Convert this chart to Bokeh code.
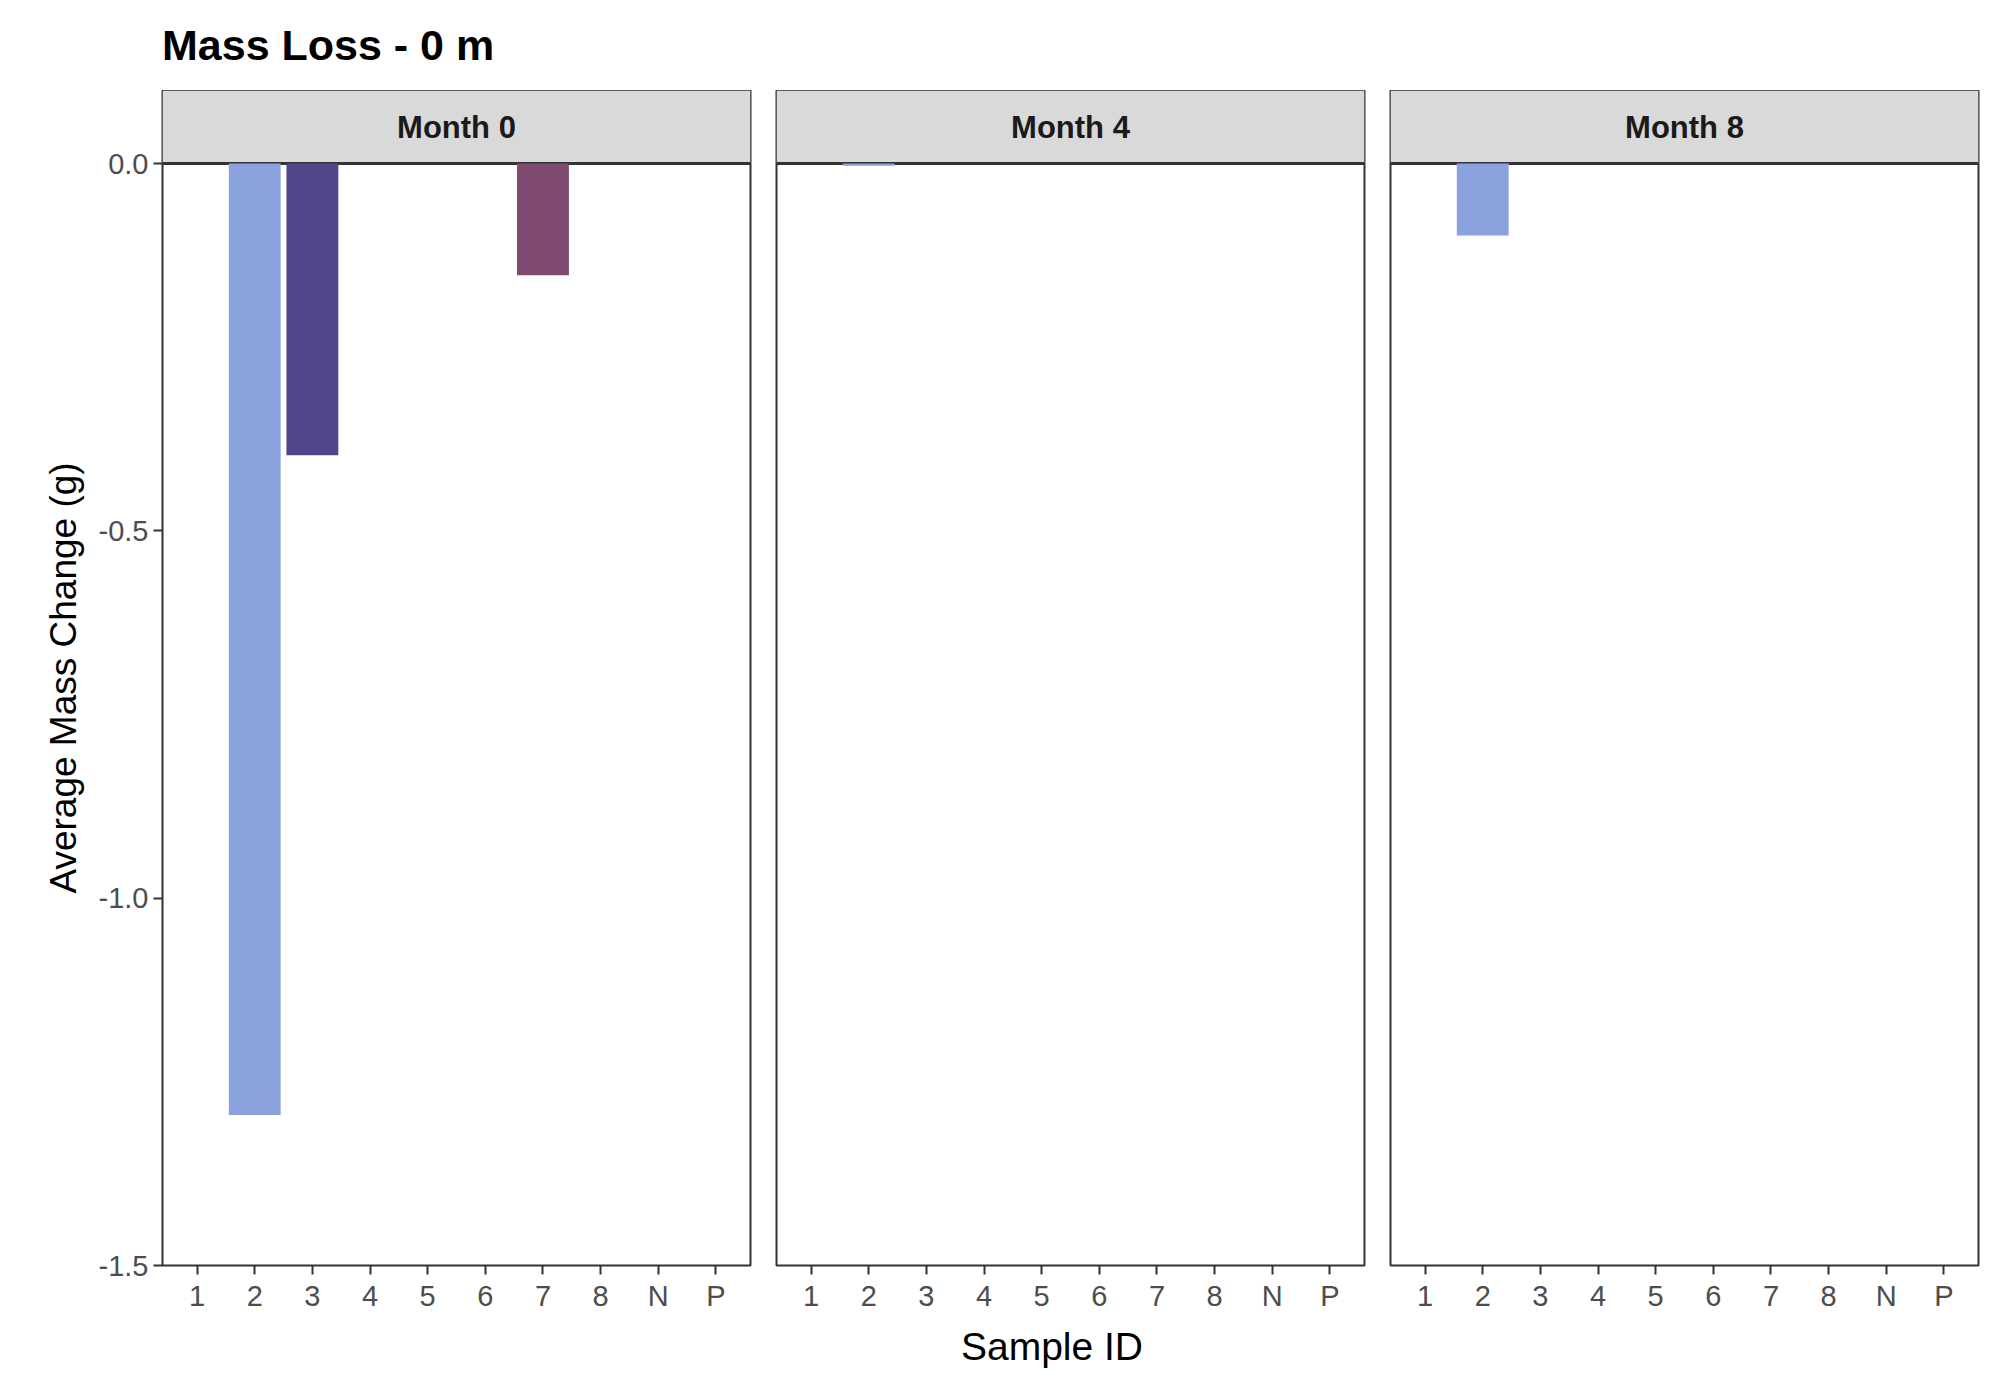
from bokeh.plotting import figure
from bokeh.models import FactorRange, Range1d, Div, FixedTicker, ColumnDataSource, PrintfTickFormatter
from bokeh.layouts import column, row
from bokeh.embed import file_html
from bokeh.resources import INLINE
from bokeh.core.properties import value

sample_ids = ["1", "2", "3", "4", "5", "6", "7", "8", "N", "P"]
months = ["Month 0", "Month 4", "Month 8"]
bar_ids = [["2", "3", "7"], ["2"], ["2"]]
bar_vals = [[-1.295, -0.397, -0.152], [-0.003], [-0.098]]
bar_colors = {"2": "#8AA2DE", "3": "#514689", "7": "#7E4A6F"}
y_ticks = [0.0, -0.5, -1.0, -1.5]

FONT = "Liberation Sans"
FW, FH = 588, 1175
STRIP = 0.0995
figs = []
for i, m in enumerate(months):
    f = figure(x_range=FactorRange(*sample_ids, range_padding=0.02),
               y_range=Range1d(-1.5, STRIP), frame_width=FW, frame_height=FH,
               output_backend="svg", toolbar_location=None,
               min_border_top=0, min_border_bottom=10,
               min_border_left=162 if i == 0 else 13,
               min_border_right=13 if i < 2 else 2)
    f.quad(left=[-0.1], right=[10.1], bottom=[0], top=[STRIP], fill_color="#D9D9D9", line_color=None)
    f.line(x=[-0.1, 10.1], y=[0, 0], line_color="#333333", line_width=3)
    src = ColumnDataSource(dict(x=bar_ids[i], top=bar_vals[i], c=[bar_colors[k] for k in bar_ids[i]]))
    f.vbar(x="x", top="top", bottom=0, width=0.9, fill_color="c", line_color=None, source=src)
    f.text(x=[5.0], y=[STRIP / 2], text=[m], text_align="center", text_baseline="middle",
           text_font=value(FONT), text_font_style="bold", text_font_size="31px", text_color="#1A1A1A")
    f.xgrid.visible = False
    f.ygrid.visible = False
    f.outline_line_color = "#333333"
    f.outline_line_width = 2
    f.xaxis.axis_line_color = None
    f.xaxis.major_tick_line_color = "#333333"
    f.xaxis.major_tick_line_width = 2
    f.xaxis.major_tick_out = 9
    f.xaxis.major_tick_in = 0
    f.xaxis.major_label_text_font = FONT
    f.xaxis.major_label_text_font_size = "29px"
    f.xaxis.major_label_text_color = "#4D4D4D"
    f.yaxis.ticker = FixedTicker(ticks=y_ticks)
    if i == 0:
        f.yaxis.formatter = PrintfTickFormatter(format="%.1f")
        f.yaxis.axis_label = "Average Mass Change (g)"
        f.yaxis.axis_label_text_font = FONT
        f.yaxis.axis_label_text_font_size = "37px"
        f.yaxis.axis_label_text_font_style = "normal"
        f.yaxis.axis_label_text_color = "black"
        f.yaxis.axis_label_standoff = 12
        f.yaxis.major_label_text_font = FONT
        f.yaxis.major_label_text_font_size = "29px"
        f.yaxis.major_label_text_color = "#4D4D4D"
        f.yaxis.axis_line_color = None
        f.yaxis.major_tick_line_color = "#333333"
        f.yaxis.major_tick_line_width = 2
        f.yaxis.major_tick_out = 9
        f.yaxis.major_tick_in = 0
        f.yaxis.minor_tick_line_color = None
    else:
        f.yaxis.visible = False
    figs.append(f)

title = Div(text="Mass Loss - 0 m", width=1900, height=80,
            styles={"font-family": FONT, "font-weight": "bold", "font-size": "43px",
                    "margin-left": "162px", "padding-top": "10px", "color": "black"})
xlab = Div(text="Sample ID", width=1764, height=60,
           styles={"font-family": FONT, "font-size": "39px", "text-align": "center",
                   "margin-left": "170px", "color": "black"})
layout = column(title, row(*figs), xlab)
open("out.html", "w").write(file_html(layout, INLINE))
